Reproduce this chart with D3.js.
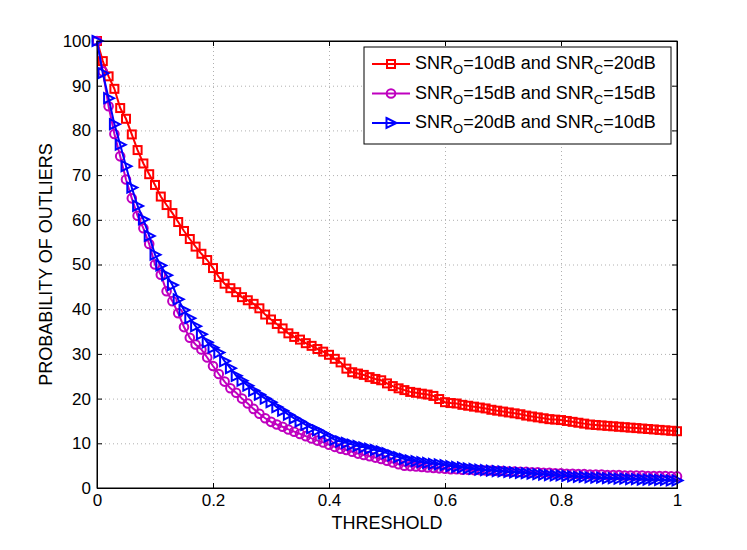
<!DOCTYPE html>
<html>
<head>
<meta charset="utf-8">
<script src="https://cdn.jsdelivr.net/npm/d3@7"></script>
<style>
  body { margin: 0; background: #fff; }
  svg text { font-family: "Liberation Sans", Arial, sans-serif; fill: #000; }
  .grid line { stroke: #b0b0b0; stroke-dasharray: 1 3; }
  .grid path { display: none; }
  .axis path, .axis line { stroke: #000; }
  .axis text { font-size: 17px; }
</style>
</head>
<body>
<div id="chart"></div>
<script>
// threshold values 0, 0.01, ... 1
const thresholds = d3.range(0, 101).map(i => i / 100);

// SNR_O=10dB and SNR_C=20dB
const redValues = [
  100, 95.5, 92.1, 89.3, 85.0, 82.6, 79.1, 75.6, 72.6, 70.2,
  67.8, 65.2, 63.3, 61.5, 59.5, 57.5, 55.7, 54.0, 52.4, 51.0,
  49.2, 47.2, 45.7, 44.7, 43.8, 42.7, 42.0, 41.2, 40.2, 38.8,
  37.7, 36.7, 35.7, 34.6, 33.8, 33.2, 32.4, 31.8, 31.1, 30.5,
  29.8, 28.9, 28.1, 26.7, 25.9, 25.6, 25.3, 24.8, 24.4, 24.1,
  23.4, 22.8, 22.3, 21.9, 21.5, 21.3, 21.1, 20.9, 20.6, 19.9,
  19.2, 19.0, 18.9, 18.6, 18.4, 18.2, 18.0, 17.8, 17.5, 17.3,
  17.1, 16.9, 16.7, 16.5, 16.2, 16.0, 15.8, 15.6, 15.4, 15.3,
  15.2, 15.0, 14.8, 14.6, 14.4, 14.2, 14.1, 14.0, 13.9, 13.8,
  13.7, 13.6, 13.5, 13.4, 13.3, 13.2, 13.1, 13.0, 12.9, 12.8,
  12.7
];

// SNR_O=15dB and SNR_C=15dB
const magentaValues = [
  100, 93.2, 85.4, 79.2, 74.2, 69.0, 64.8, 60.9, 58.1, 54.6,
  50.0, 47.7, 44.0, 41.8, 39.1, 36.0, 33.6, 32.1, 31.0, 29.2,
  27.3, 25.5, 23.8, 22.3, 21.3, 20.0, 18.9, 17.7, 16.6, 15.6,
  14.8, 14.2, 13.7, 13.1, 12.6, 12.1, 11.6, 11.1, 10.6, 10.2,
  9.7, 9.2, 8.8, 8.5, 8.1, 7.7, 7.4, 7.1, 6.8, 6.5,
  6.1, 5.7, 5.3, 5.0, 4.9, 4.8, 4.7, 4.6, 4.5, 4.4,
  4.3, 4.2, 4.2, 4.1, 4.1, 4.0, 4.0, 3.9, 3.9, 3.8,
  3.8, 3.7, 3.7, 3.6, 3.6, 3.5, 3.5, 3.4, 3.4, 3.3,
  3.3, 3.2, 3.2, 3.1, 3.1, 3.0, 3.0, 3.0, 2.9, 2.9,
  2.9, 2.8, 2.8, 2.8, 2.8, 2.7, 2.7, 2.7, 2.7, 2.6,
  2.6
];

// SNR_O=20dB and SNR_C=10dB
const blueValues = [
  100, 92.8, 87.2, 81.4, 76.8, 72.0, 67.2, 63.1, 60.1, 56.4,
  52.2, 49.8, 47.6, 45.4, 42.2, 39.8, 38.0, 36.2, 34.4, 32.6,
  31.4, 30.3, 28.4, 26.8, 25.1, 24.0, 22.9, 21.8, 20.9, 20.0,
  19.2, 18.1, 17.3, 16.4, 15.6, 14.9, 14.1, 13.4, 12.9, 12.2,
  11.5, 10.8, 10.4, 10.1, 9.7, 9.4, 9.1, 8.8, 8.5, 8.2,
  7.8, 7.3, 6.9, 6.5, 6.2, 6.0, 5.8, 5.6, 5.4, 5.3,
  5.1, 4.9, 4.7, 4.6, 4.4, 4.3, 4.1, 4.0, 3.9, 3.8,
  3.7, 3.6, 3.5, 3.4, 3.3, 3.2, 3.1, 3.0, 2.9, 2.8,
  2.8, 2.7, 2.6, 2.5, 2.5, 2.4, 2.3, 2.3, 2.2, 2.2,
  2.1, 2.1, 2.0, 2.0, 1.9, 1.9, 1.9, 1.8, 1.8, 1.7,
  1.7
];

const xTicks = [0, 0.2, 0.4, 0.6, 0.8, 1];
const yTicks = [0, 10, 20, 30, 40, 50, 60, 70, 80, 90, 100];

const series = [
  {name: "10", nameC: "20", values: redValues, color: "#ff0000", marker: "square"},
  {name: "15", nameC: "15", values: magentaValues, color: "#bf00bf", marker: "circle"},
  {name: "20", nameC: "10", values: blueValues, color: "#0000ff", marker: "triangle"}
];

const margin = {top: 41, right: 70, bottom: 62, left: 97};
const width = 747 - margin.left - margin.right;
const height = 550 - margin.top - margin.bottom;

const svg = d3.select("#chart").append("svg")
    .attr("width", 747)
    .attr("height", 550)
    .append("g")
    .attr("transform", "translate(" + margin.left + "," + margin.top + ")");

const x = d3.scaleLinear().domain([0, 1]).range([0, width]);
const y = d3.scaleLinear().domain([0, 100]).range([height, 0]);

// dotted grid
svg.append("g")
    .attr("class", "grid")
    .attr("transform", "translate(0," + height + ")")
    .call(d3.axisBottom(x).tickValues(xTicks).tickSize(-height).tickFormat(""));
svg.append("g")
    .attr("class", "grid")
    .call(d3.axisLeft(y).tickValues(yTicks).tickSize(-width).tickFormat(""));

// axes with inward ticks (box style)
svg.append("g")
    .attr("class", "axis")
    .attr("transform", "translate(0," + height + ")")
    .call(d3.axisBottom(x).tickValues(xTicks).tickSize(-5).tickPadding(6).tickFormat(d3.format("")));
svg.append("g")
    .attr("class", "axis")
    .call(d3.axisLeft(y).tickValues(yTicks).tickSize(-5).tickPadding(6));
svg.append("g")
    .attr("class", "axis")
    .call(d3.axisTop(x).tickValues(xTicks).tickSize(-5).tickFormat(""));
svg.append("g")
    .attr("class", "axis")
    .attr("transform", "translate(" + width + ",0)")
    .call(d3.axisRight(y).tickValues(yTicks).tickSize(-5).tickFormat(""));

// axis labels
svg.append("text")
    .attr("x", width / 2)
    .attr("y", height + 41)
    .style("text-anchor", "middle")
    .style("font-size", "18px")
    .text("THRESHOLD");

svg.append("text")
    .attr("transform", "rotate(-90)")
    .attr("x", -height / 2)
    .attr("y", -45)
    .style("text-anchor", "middle")
    .style("font-size", "18px")
    .text("PROBABILITY OF OUTLIERS");

function drawMarker(g, type, color) {
    if (type === "square") {
        g.append("rect").attr("x", -4).attr("y", -4).attr("width", 8).attr("height", 8)
            .attr("fill", "none").attr("stroke", color).attr("stroke-width", 2);
    } else if (type === "circle") {
        g.append("circle").attr("r", 4.3)
            .attr("fill", "none").attr("stroke", color).attr("stroke-width", 2);
    } else {
        g.append("path").attr("d", "M-4.5,-5L5.5,0L-4.5,5Z")
            .attr("fill", "none").attr("stroke", color).attr("stroke-width", 2);
    }
}

const line = d3.line()
    .x(d => x(d[0]))
    .y(d => y(d[1]));

series.forEach(s => {
    const pts = thresholds.map((t, i) => [t, s.values[i]]);
    const g = svg.append("g");
    g.append("path")
        .datum(pts)
        .attr("fill", "none")
        .attr("stroke", s.color)
        .attr("stroke-width", 2)
        .attr("d", line);
    g.selectAll("g.mk")
        .data(pts)
        .enter()
        .append("g")
        .attr("class", "mk")
        .attr("transform", d => "translate(" + x(d[0]) + "," + y(d[1]) + ")")
        .each(function() { drawMarker(d3.select(this), s.marker, s.color); });
});

// axis box redrawn on top
svg.append("rect")
    .attr("width", width).attr("height", height)
    .attr("fill", "none").attr("stroke", "#000").attr("stroke-width", 1);

// legend
const legend = svg.append("g")
    .attr("transform", "translate(" + (364 - margin.left) + "," + (47 - margin.top) + ")");
legend.append("rect")
    .attr("width", 307).attr("height", 97)
    .attr("fill", "#fff").attr("stroke", "#000").attr("stroke-width", 1);

series.forEach((s, i) => {
    const row = legend.append("g").attr("transform", "translate(0," + (17 + i * 29.5) + ")");
    row.append("line")
        .attr("x1", 8).attr("x2", 46)
        .attr("stroke", s.color).attr("stroke-width", 2);
    drawMarker(row.append("g").attr("transform", "translate(27,0)"), s.marker, s.color);
    const t = row.append("text")
        .attr("x", 51).attr("y", 5)
        .style("font-size", "18px");
    t.append("tspan").text("SNR");
    t.append("tspan").attr("dy", 5).style("font-size", "13px").text("O");
    t.append("tspan").attr("dy", -5).text("=" + s.name + "dB and SNR");
    t.append("tspan").attr("dy", 5).style("font-size", "13px").text("C");
    t.append("tspan").attr("dy", -5).text("=" + s.nameC + "dB");
});
</script>
</body>
</html>
